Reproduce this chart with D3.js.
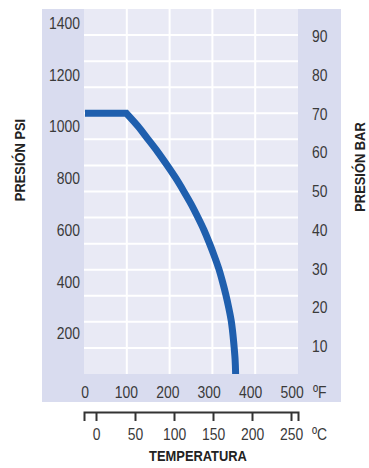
<!DOCTYPE html>
<html><head><meta charset="utf-8">
<script src="https://cdn.jsdelivr.net/npm/d3@7"></script>
<style>
html,body{margin:0;padding:0;background:#fff;}
svg{display:block;}
text{font-family:"Liberation Sans",Arial,sans-serif;}
</style></head>
<body><svg id="c" width="369" height="468"></svg>
<script>
// ---- data ----
const tempF       = [0, 100, 128, 152, 176, 198, 219, 238, 256, 272, 287, 300, 312, 323, 332, 340, 347, 353, 357, 360, 362.5, 363.7, 364];
const pressurePsi = [1050, 1050, 1000, 950, 900, 850, 800, 750, 700, 650, 600, 550, 500, 450, 400, 350, 300, 250, 200, 150, 100, 50, 0];
const psiTicks = [200, 400, 600, 800, 1000, 1200, 1400];
const barTicks = [10, 20, 30, 40, 50, 60, 70, 80, 90];
const fTicks   = [0, 100, 200, 300, 400, 500];
const cTicks   = [0, 50, 100, 150, 200, 250];
const titlePsi = "PRESIÓN PSI";
const titleBar = "PRESIÓN BAR";
const titleTemp = "TEMPERATURA";
const unitF = "ºF";
const unitC = "ºC";

// ---- layout ----
const panel = {x0: 42, x1: 341, y0: 9, y1: 402};
const inner = {x0: 84, x1: 298, y0: 9, y1: 374};
const SX = 0.82;   // horizontal condensing of tick labels
const TSX = 0.86;  // condensing of titles
const svg = d3.select("#c");

const x = d3.scaleLinear().domain([0, 500]).range([85, 292]);
const y = d3.scaleLinear().domain([0, 1400]).range([385, 22.7]);
const yBar = d3.scaleLinear().domain([0, 90]).range([384.75, 36]);
const cBase = d3.scaleLinear().domain([0, 250]).range([96, 291]);
const xC = d3.scaleLinear().domain([cBase.invert(inner.x0), cBase.invert(inner.x1)]).range([inner.x0, inner.x1]);
const gx = d3.scaleLinear().domain([0, 5]).range([inner.x0, inner.x1]);
const gy = d3.scaleLinear().domain([0, 14]).range([inner.y0, inner.y1]);

// panels
svg.append("rect").attr("x", panel.x0).attr("y", panel.y0)
  .attr("width", panel.x1 - panel.x0).attr("height", panel.y1 - panel.y0).attr("fill", "#d9dcef");
svg.append("rect").attr("x", inner.x0).attr("y", inner.y0)
  .attr("width", inner.x1 - inner.x0).attr("height", inner.y1 - inner.y0).attr("fill", "#e9eaf5");

// grid
svg.append("g").selectAll("line").data(d3.range(1, 5)).join("line")
  .attr("x1", d => gx(d)).attr("x2", d => gx(d)).attr("y1", inner.y0).attr("y2", inner.y1)
  .attr("stroke", "#fff").attr("stroke-width", 2);
svg.append("g").selectAll("line").data(d3.range(1, 14)).join("line")
  .attr("y1", d => gy(d)).attr("y2", d => gy(d)).attr("x1", inner.x0).attr("x2", inner.x1)
  .attr("stroke", "#fff").attr("stroke-width", 2);

// clip
svg.append("clipPath").attr("id", "clip").append("rect")
  .attr("x", inner.x0).attr("y", inner.y0).attr("width", inner.x1 - inner.x0).attr("height", inner.y1 - inner.y0);

// curve
const pts = tempF.map((t, i) => [t, pressurePsi[i]]);
const flat = d3.line().x(d => x(d[0])).y(d => y(d[1]))(pts.slice(0, 2));
const curve = d3.line().x(d => x(d[0])).y(d => y(d[1])).curve(d3.curveMonotoneY)(pts.slice(1));
svg.append("path").attr("d", flat + curve.replace(/^M/, "L"))
  .attr("clip-path", "url(#clip)")
  .attr("fill", "none").attr("stroke", "#1f5fae").attr("stroke-width", 7)
  .attr("stroke-linejoin", "miter");

// tick labels
const tickStyle = sel => sel.attr("font-size", 17).attr("fill", "#3a3a3a");
function labels(data, fx, fy, anchor) {
  svg.append("g").selectAll("text").data(data).join("text")
    .attr("transform", d => `translate(${fx(d)},${fy(d)}) scale(${SX},1)`)
    .attr("dy", "0.36em").attr("text-anchor", anchor)
    .text(d => d).call(tickStyle);
}
labels(psiTicks, () => 80, d => y(d), "end");
labels(barTicks, () => 312, d => yBar(d), "start");
labels(fTicks, d => x(d), () => 392, "middle");
labels([unitF], () => 313, () => 392, "start");

// celsius axis
const cAxis = svg.append("g").attr("transform", "translate(0,412)")
  .call(d3.axisBottom(xC).tickValues(cTicks).tickSizeInner(9).tickSizeOuter(9).tickPadding(7));
cAxis.select(".domain").attr("stroke", "#333").attr("stroke-width", 2);
cAxis.selectAll(".tick line").attr("stroke", "#333").attr("stroke-width", 2);
cAxis.selectAll(".tick text").attr("font-family", null).attr("transform", `scale(${SX},1)`).call(tickStyle);
labels([unitC], () => 312, () => 434, "start");

// titles
const titleStyle = sel => sel.attr("font-size", 15).attr("font-weight", "bold").attr("fill", "#222");
svg.append("text").attr("transform", `translate(25,160) rotate(-90) scale(${TSX},1)`).attr("text-anchor", "middle")
  .text(titlePsi).call(titleStyle);
svg.append("text").attr("transform", `translate(365,167) rotate(-90) scale(${TSX},1)`).attr("text-anchor", "middle")
  .text(titleBar).call(titleStyle);
svg.append("text").attr("transform", `translate(198,461) scale(${TSX},1)`).attr("text-anchor", "middle")
  .text(titleTemp).call(titleStyle);
</script>
</body></html>
